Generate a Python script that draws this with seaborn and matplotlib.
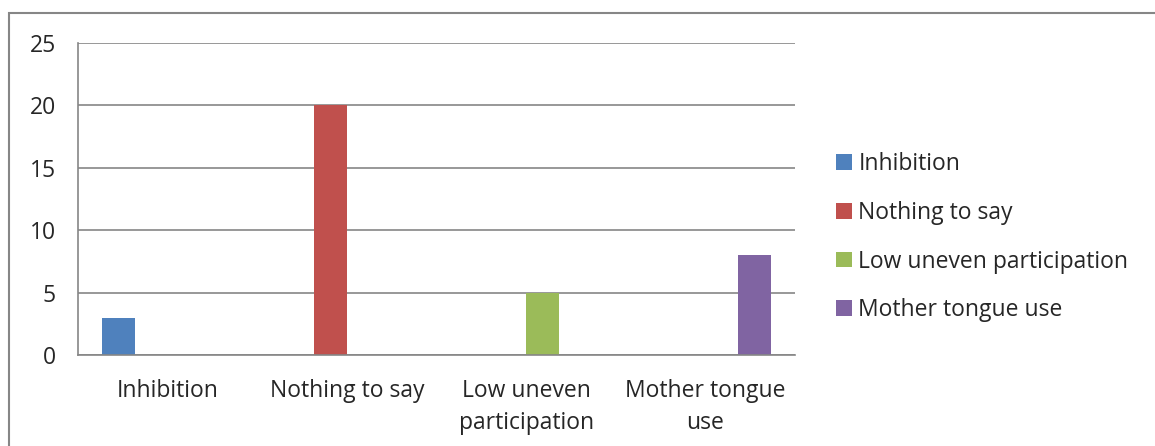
#!/usr/bin/env python3

import pandas as pd
import matplotlib.pyplot as plt
import seaborn as sns
import numpy as np
from matplotlib.patches import Rectangle, Patch

categories = ['Inhibition', 'Nothing to say', 'Low uneven participation', 'Mother tongue use']
tick_labels = ['Inhibition', 'Nothing to say', 'Low uneven\nparticipation', 'Mother tongue\nuse']
values = [3, 20, 5, 8]
colors = ['#4F81BD', '#C0504D', '#9BBB59', '#8064A2']
yticks = [0, 5, 10, 15, 20, 25]

GRAY = '#868686'
FS = 16.5


def setup_plot_style():
    """Estilo tipo Excel"""
    sns.set_theme(style='white')
    plt.rcParams['font.family'] = ['Open Sans', 'DejaVu Sans']
    plt.rcParams['font.size'] = FS


def main():
    setup_plot_style()

    df = pd.DataFrame({'Category': categories, 'Series': categories, 'Value': values})

    fig = plt.figure(figsize=(11.55, 4.46), dpi=100)
    ax = fig.add_axes([78 / 1155, 1 - 355 / 446, (795 - 78) / 1155, (355 - 43) / 446])

    # cada serie ocupa su propio hueco dentro del grupo (gap width 150%)
    sns.barplot(data=df, x='Category', y='Value', hue='Series', order=categories,
                hue_order=categories, palette=colors, dodge=True, width=4 / 5.5,
                saturation=1, linewidth=0, ax=ax, legend=False)

    ax.set_xlim(-0.5, len(categories) - 0.5)
    ax.set_ylim(0, 25)
    ax.set_yticks(yticks)
    ax.set_xticks(range(len(categories)))
    ax.set_xticklabels(tick_labels, linespacing=1.45)
    ax.set_xticks(np.arange(-0.5, len(categories)), minor=True)
    ax.tick_params(axis='x', which='major', length=0, pad=17, labelsize=FS)
    ax.tick_params(axis='x', which='minor', length=7, width=1.2, color=GRAY, direction='out')
    ax.tick_params(axis='y', length=7, width=1.2, color=GRAY, pad=9, labelsize=FS)
    ax.set_xlabel('')
    ax.set_ylabel('')

    ax.yaxis.grid(True, color=GRAY, linewidth=1.2)
    ax.set_axisbelow(True)
    for side in ['top', 'right']:
        ax.spines[side].set_visible(False)
    for side in ['left', 'bottom']:
        ax.spines[side].set_color(GRAY)
        ax.spines[side].set_linewidth(1.2)

    handles = [Patch(facecolor=c, edgecolor='none') for c in colors]
    fig.legend(handles, categories, loc='upper left', bbox_to_anchor=(836 / 1155, 1 - 152 / 446),
               frameon=False, fontsize=FS, handlelength=0.68, handleheight=0.68,
               handletextpad=0.3, labelspacing=1.08, borderaxespad=0, borderpad=0)

    # borde exterior del área del gráfico
    fig.patches.append(Rectangle((9 / 1155, -0.1), 1.1, 1 - 13 / 446 + 0.1,
                                 transform=fig.transFigure, fill=False,
                                 edgecolor=GRAY, linewidth=1.5))

    fig.savefig('out.png', dpi=100)
    plt.close(fig)


if __name__ == '__main__':
    main()
